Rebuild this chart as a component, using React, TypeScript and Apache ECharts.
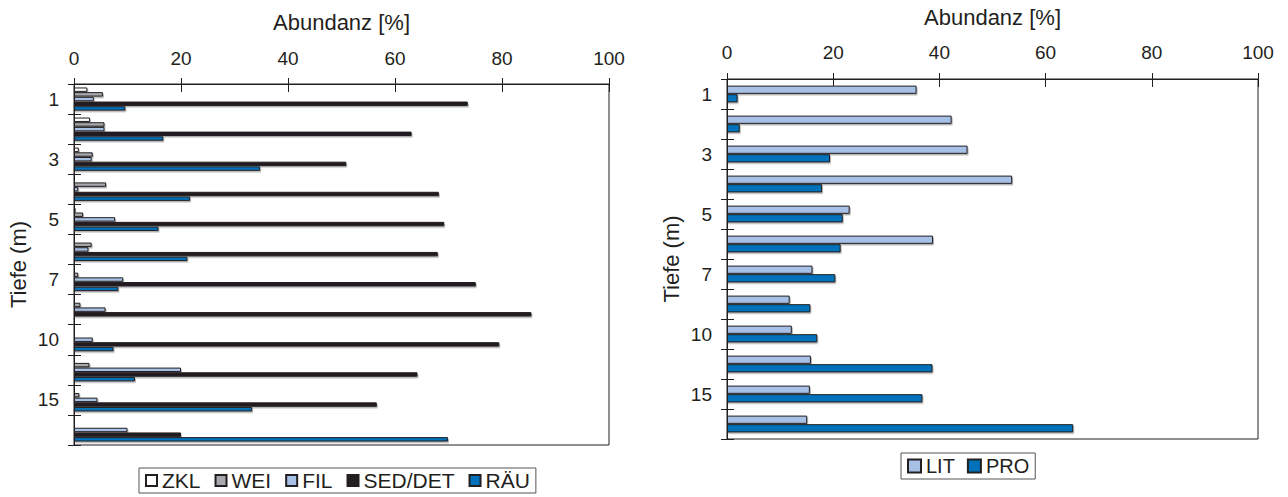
import React, { useEffect, useRef } from "react";
import * as echarts from "echarts";

const depths = ["1", "2", "3", "4", "5", "6", "7", "8", "10", "12", "15", "18"];
const xTicks = { min: 0, max: 100, interval: 20 };

const zkl = [2.5, 3.0, 0.9, null, 0.3, null, null, null, null, null, null, null];
const wei = [5.4, 5.7, 3.5, 6.0, 1.7, 3.3, 0.8, 1.2, null, 2.9, 1.0, null];
const fil = [3.7, 5.7, 3.3, 0.8, 7.7, 2.7, 9.2, 5.9, 3.5, 20.0, 4.4, 10.0];
const sed = [73.6, 63.1, 50.9, 68.2, 69.2, 68.0, 75.1, 85.5, 79.5, 64.2, 56.6, 20.0];
const rau = [9.6, 16.7, 34.8, 21.7, 15.8, 21.2, 8.3, null, 7.4, 11.4, 33.3, 69.9];

const lit = [35.7, 42.3, 45.3, 53.7, 23.1, 38.8, 16.1, 11.8, 12.2, 15.8, 15.6, 15.1];
const pro = [2.0, 2.4, 19.4, 17.9, 21.8, 21.4, 20.4, 15.7, 17.0, 38.7, 36.8, 65.2];

const INK = "#231f20";
const FONT = "Liberation Sans, Arial, sans-serif";

const leftSeries = [
  { name: "ZKL", data: zkl, color: "#ffffff" },
  { name: "WEI", data: wei, color: "#a7a9ac" },
  { name: "FIL", data: fil, color: "#a6c1e5" },
  { name: "SED/DET", data: sed, color: "#231f20" },
  { name: "RÄU", data: rau, color: "#0072bc" },
];
const rightSeries = [
  { name: "LIT", data: lit, color: "#a6c1e5" },
  { name: "PRO", data: pro, color: "#0072bc" },
];

function valueAxes(grid: number, labelMargin: number) {
  return [
    {
      gridIndex: grid,
      type: "value",
      position: "top",
      ...xTicks,
      name: "Abundanz [%]",
      nameLocation: "middle",
      nameGap: 62,
      nameTextStyle: { fontSize: 22, color: INK, fontFamily: FONT, verticalAlign: "middle" },
      axisLine: { show: true, lineStyle: { color: INK, width: 1 } },
      axisTick: { show: true, length: 6, lineStyle: { color: INK } },
      axisLabel: { fontSize: 19, color: INK, fontFamily: FONT, margin: labelMargin },
      splitLine: { show: false },
    },
    {
      gridIndex: grid,
      type: "value",
      position: "top",
      ...xTicks,
      axisLine: { show: false },
      axisTick: { show: true, inside: true, length: 8, lineStyle: { color: INK } },
      axisLabel: { show: false },
      splitLine: { show: false },
    },
  ];
}

function categoryAxes(grid: number) {
  return [
    {
      gridIndex: grid,
      type: "category",
      position: "left",
      data: depths,
      inverse: true,
      name: "Tiefe (m)",
      nameLocation: "middle",
      nameGap: 45,
      nameTextStyle: { fontSize: 22, color: INK, fontFamily: FONT },
      axisLine: { show: true, lineStyle: { color: INK, width: 1 } },
      axisTick: { show: true, interval: 0, length: 6, lineStyle: { color: INK } },
      axisLabel: { interval: 1, fontSize: 19, color: INK, fontFamily: FONT, margin: 15 },
    },
    {
      gridIndex: grid,
      type: "category",
      position: "left",
      data: depths,
      inverse: true,
      axisLine: { show: false },
      axisTick: { show: true, inside: true, interval: 0, length: 7, lineStyle: { color: INK } },
      axisLabel: { show: false },
    },
  ];
}

function barItem(color: string) {
  return {
    color,
    borderColor: INK,
    borderWidth: 1,
    shadowColor: "rgba(0,0,0,0.3)",
    shadowOffsetX: 1,
    shadowOffsetY: 1.5,
    shadowBlur: 1,
  };
}

export default function App() {
  const ref = useRef<HTMLDivElement>(null);
  useEffect(() => {
    document.body.style.margin = "0";
    if (!ref.current) return;
    const chart = echarts.init(ref.current, undefined, { renderer: "svg" });
    const option: any = {
      animation: false,
      backgroundColor: "#ffffff",
      textStyle: { fontFamily: FONT },
      grid: [
        { left: 74, top: 84, width: 535, height: 361, show: true, borderColor: INK, borderWidth: 1, backgroundColor: "transparent", containLabel: false, outerBoundsMode: "none" },
        { left: 727, top: 79, width: 531, height: 360, show: true, borderColor: INK, borderWidth: 1, backgroundColor: "transparent", containLabel: false, outerBoundsMode: "none" },
      ],
      xAxis: [...valueAxes(0, 16), ...valueAxes(1, 17)],
      yAxis: [...categoryAxes(0), ...categoryAxes(1)],
      legend: [
        {
          data: leftSeries.map((s) => s.name),
          left: 139,
          top: 468,
          orient: "horizontal",
          icon: "rect",
          itemWidth: 11,
          itemHeight: 11,
          itemGap: 14,
          padding: [2, 6, 2, 6],
          borderColor: "#555",
          borderWidth: 1,
          textStyle: { fontSize: 21, color: INK, fontFamily: FONT },
        },
        {
          data: rightSeries.map((s) => s.name),
          left: 901,
          top: 453,
          orient: "horizontal",
          icon: "rect",
          itemWidth: 13,
          itemHeight: 13,
          itemGap: 12,
          padding: [3, 6, 3, 6],
          borderColor: "#555",
          borderWidth: 1,
          textStyle: { fontSize: 20, color: INK, fontFamily: FONT },
        },
      ],
      series: [
        ...leftSeries.map((s) => ({
          name: s.name,
          type: "bar",
          xAxisIndex: 0,
          yAxisIndex: 0,
          data: s.data,
          barGap: "6%",
          barCategoryGap: "23%",
          itemStyle: barItem(s.color),
        })),
        ...rightSeries.map((s) => ({
          name: s.name,
          type: "bar",
          xAxisIndex: 2,
          yAxisIndex: 2,
          data: s.data,
          barGap: "4%",
          barCategoryGap: "44%",
          itemStyle: barItem(s.color),
        })),
      ],
    };
    chart.setOption(option);
    return () => chart.dispose();
  }, []);
  return <div ref={ref} style={{ width: 1288, height: 497 }} />;
}
